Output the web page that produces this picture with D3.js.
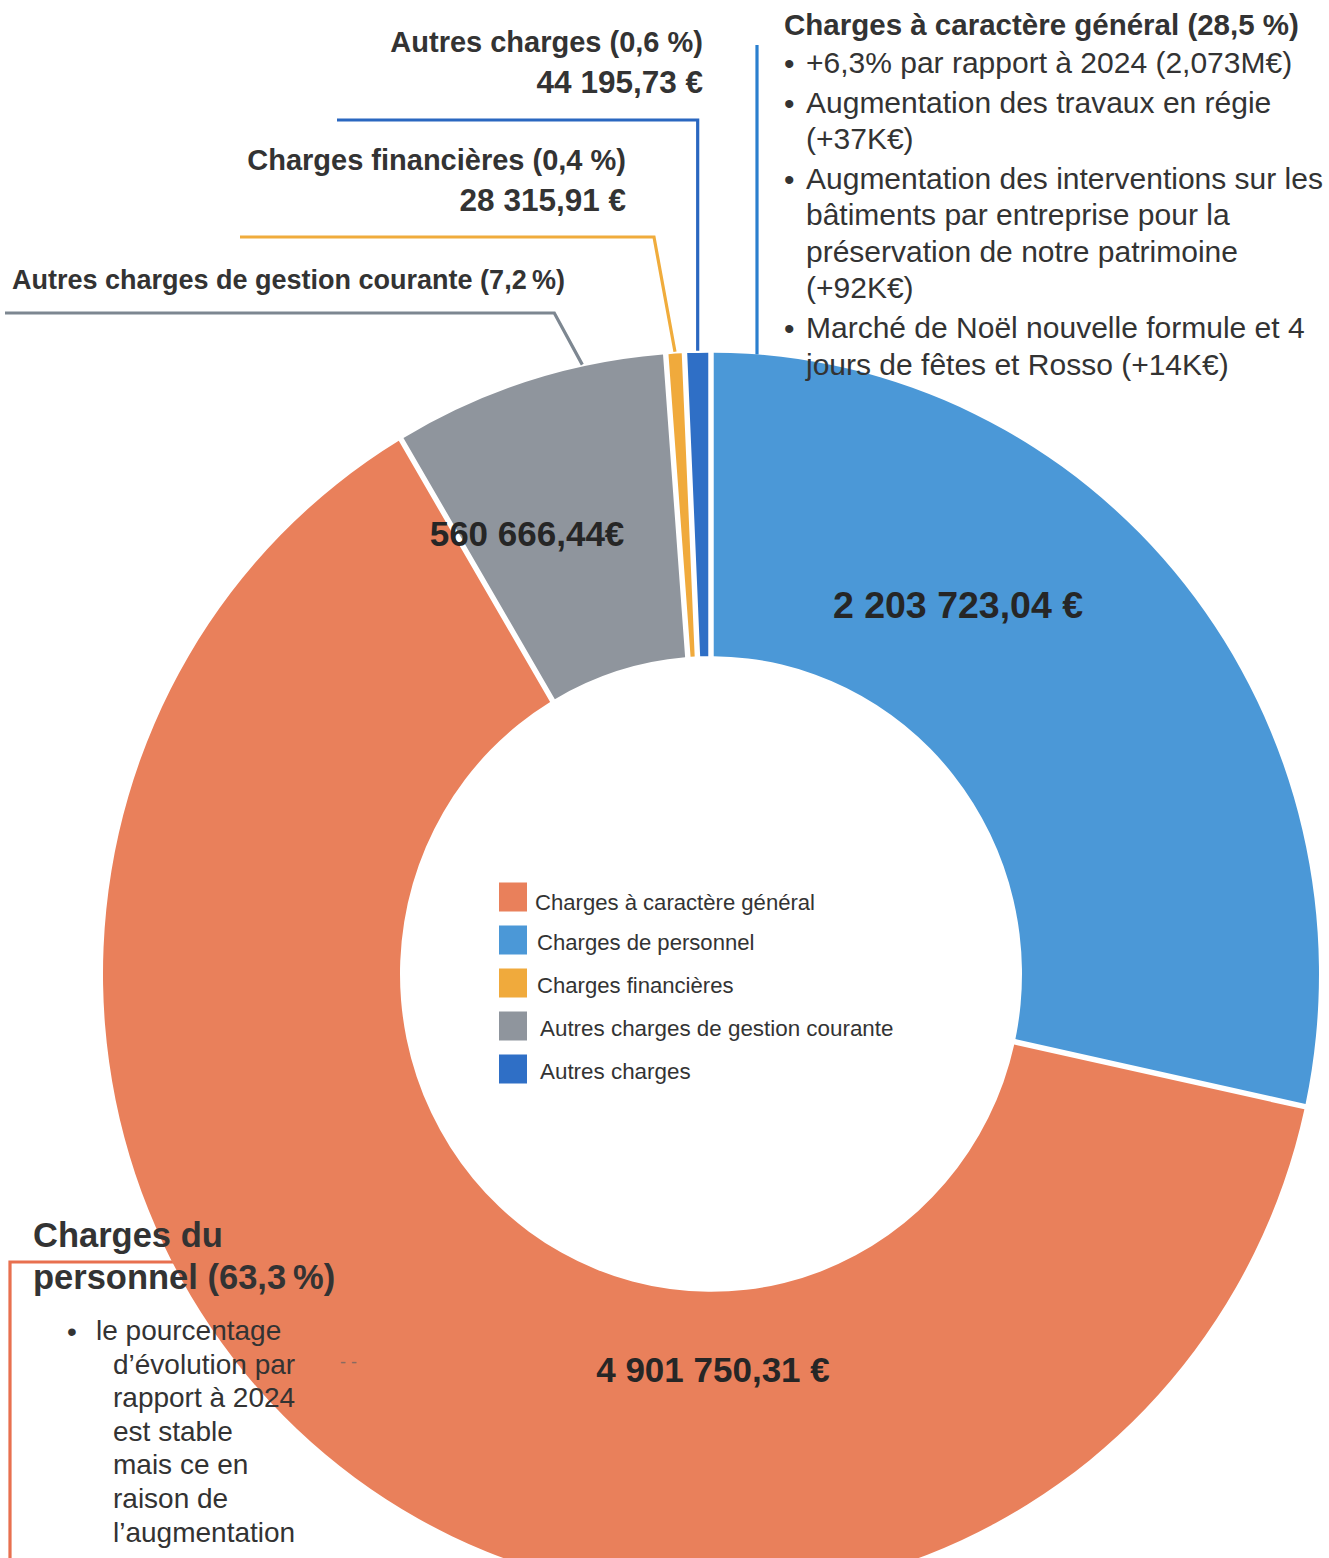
<!DOCTYPE html>
<html>
<head>
<meta charset="utf-8">
<script src="https://cdn.jsdelivr.net/npm/d3@7"></script>
<style>
  html, body { margin: 0; padding: 0; background: #fff; }
  #chart { width: 1329px; height: 1558px; }
  text { font-family: "Liberation Sans", Arial, sans-serif; }
</style>
</head>
<body>
<div id="chart"></div>
<script>
// slices, clockwise from 12 o'clock
const categories = ['Charges à caractère général', 'Charges du personnel', 'Autres charges de gestion courante', 'Charges financières', 'Autres charges']
const values = [2203723.04, 4901750.31, 560666.44, 28315.91, 44195.73]
const sliceColors = ['#4b98d7', '#e9805b', '#8f959d', '#f0aa3c', '#2f6fc6']
const leaderColors = ['#2a7fcf', '#e8704f', '#7d8791', '#f0ac3c', '#2a67c0']

// legend (as printed in the source)
const legendLabels = ['Charges à caractère général', 'Charges de personnel', 'Charges financières', 'Autres charges de gestion courante', 'Autres charges']
const legendColors = ['#e9805b', '#4b98d7', '#f0aa3c', '#8f959d', '#2f6fc6']

// notes
const notesGeneral = [
    {bullet: true, text: '+6,3% par rapport à 2024 (2,073M€)'},
    {bullet: true, text: 'Augmentation des travaux en régie'},
    {bullet: false, text: '(+37K€)'},
    {bullet: true, text: 'Augmentation des interventions sur les'},
    {bullet: false, text: 'bâtiments par entreprise pour la'},
    {bullet: false, text: 'préservation de notre patrimoine'},
    {bullet: false, text: '(+92K€)'},
    {bullet: true, text: 'Marché de Noël nouvelle formule et 4'},
    {bullet: false, text: 'jours de fêtes et Rosso (+14K€)'}
]
const notesPersonnel = ['le pourcentage', 'd’évolution par', 'rapport à 2024', 'est stable', 'mais ce en', 'raison de', 'l’augmentation']

const fr = d3.formatLocale({decimal: ',', thousands: '\u00a0', grouping: [3], currency: ['', ' €']})
const fmtMoney = fr.format(',.2f')
const fmtPct = fr.format('.1f')

class DonutChart {
    constructor(container) {
        this.svg = d3.select(container).append('svg')
            .attr('width', 1329)
            .attr('height', 1558)
        this.cx = 711
        this.cy = 974
        this.R = 608
        this.r0 = 311
        this.sy = 1.022   // the scan is slightly taller than wide
        this.total = d3.sum(values)
        this.pie = d3.pie().sort(null).value(d => d).padAngle(0.008)(values)
        this.arc = d3.arc().innerRadius(this.r0).outerRadius(this.R)
    }

    polar(angle, r) {
        return [this.cx + r * Math.sin(angle), this.cy - this.sy * r * Math.cos(angle)]
    }

    draw() {
        this.drawLeaders()
        this.drawSlices()
        this.drawLegend()
        this.drawLabels()
        this.drawNotes()
    }

    drawLeaders() {
        const g = this.svg.append('g')
            .attr('fill', 'none')
            .attr('stroke-width', 3.2)
        const at = (i, f) => this.pie[i].startAngle + f * (this.pie[i].endAngle - this.pie[i].startAngle)
        const line = d3.line()

        // autres charges
        const p4 = this.polar(at(4, 0.5), this.R + 2)
        g.append('path').attr('stroke', leaderColors[4])
            .attr('d', line([p4, [p4[0], 120], [337, 120]]))
        // charges financieres
        const p3 = this.polar(at(3, 0.5), this.R + 2)
        g.append('path').attr('stroke', leaderColors[3])
            .attr('d', line([p3, [p3[0] - 21, 237], [240, 237]]))
        // gestion courante
        const p2 = this.polar(at(2, 0.7), this.R + 2)
        g.append('path').attr('stroke', leaderColors[2])
            .attr('d', line([p2, [p2[0] - 28, 313], [5, 313]]))
        // caractere general
        const x0 = 757
        const y0 = this.cy - this.sy * Math.sqrt(this.R * this.R - (x0 - this.cx) ** 2)
        g.append('path').attr('stroke', leaderColors[0])
            .attr('d', line([[x0, y0], [x0, 45]]))
        // personnel
        g.append('path').attr('stroke', leaderColors[1])
            .attr('d', line([[10, 1560], [10, 1262], [220, 1262]]))
    }

    drawSlices() {
        this.svg.append('g')
            .attr('transform', `translate(${this.cx},${this.cy}) scale(1,${this.sy})`)
            .selectAll('path')
            .data(this.pie)
            .enter()
            .append('path')
            .attr('d', this.arc)
            .attr('fill', (d, i) => sliceColors[i])
    }

    drawLegend() {
        const y = d3.scalePoint().domain(legendLabels).range([897, 1069])
        const g = this.svg.append('g')
        const item = g.selectAll('g')
            .data(legendLabels)
            .enter()
            .append('g')
            .attr('transform', d => `translate(499, ${y(d)})`)
        item.append('rect')
            .attr('x', 0)
            .attr('y', -14.5)
            .attr('width', 28)
            .attr('height', 29)
            .attr('fill', (d, i) => legendColors[i])
        item.append('text')
            .text(d => d)
            .attr('x', (d, i) => 36 + (i > 2 ? 5 : i > 0 ? 2 : 0))
            .attr('y', (d, i) => i === 0 ? 13 : 10)
            .style('font-size', (d, i) => i > 2 ? '22.4px' : '22.1px')
            .style('fill', '#333')
    }

    drawLabels() {
        const lbl = this.svg.append('g')
            .style('font-weight', 'bold')
            .style('fill', '#262626')
            .style('font-size', '35px')
            .attr('text-anchor', 'middle')
        lbl.append('text').text(fmtMoney(values[0]) + ' €').attr('x', 958).attr('y', 618).style('font-size', '37.5px')
        lbl.append('text').text(fmtMoney(values[2]) + '€').attr('x', 527).attr('y', 546)
        lbl.append('text').text(fmtMoney(values[1]) + ' €').attr('x', 713).attr('y', 1382)
    }

    drawNotes() {
        const pct = (i) => fmtPct(values[i] / this.total * 100)
        const svg = this.svg
        const head = svg.append('g')
            .style('font-weight', 'bold')
            .style('fill', '#333')

        head.append('text').text(`${categories[4]} (${pct(4)} %)`)
            .attr('x', 703).attr('y', 52).attr('text-anchor', 'end').style('font-size', '29px')
        head.append('text').text(fmtMoney(values[4]) + ' €')
            .attr('x', 703).attr('y', 93).attr('text-anchor', 'end').style('font-size', '31.5px')
        head.append('text').text(`${categories[3]} (${pct(3)} %)`)
            .attr('x', 626).attr('y', 170).attr('text-anchor', 'end').style('font-size', '29px')
        head.append('text').text(fmtMoney(values[3]) + ' €')
            .attr('x', 626).attr('y', 211).attr('text-anchor', 'end').style('font-size', '31.5px')
        head.append('text').text(`${categories[2]} (${pct(2)}\u202f%)`)
            .attr('x', 12).attr('y', 289).style('font-size', '27px')
        head.append('text').text(`${categories[0]} (${pct(0)} %)`)
            .attr('x', 784).attr('y', 35).style('font-size', '29.5px')

        // bullets, general charges
        const body = svg.append('g').style('fill', '#333').style('font-size', '30px')
        let y = 73
        notesGeneral.forEach((n, i) => {
            if (i > 0) y += n.bullet ? 39.5 : 36.6
            if (n.bullet) body.append('text').text('•').attr('x', 784).attr('y', y + 1).style('font-size', '30px')
            body.append('text').text(n.text).attr('x', 806).attr('y', y)
        })

        // personnel block
        const pers = svg.append('g').style('fill', '#333')
        pers.append('text').text('Charges du')
            .attr('x', 33).attr('y', 1247).style('font-weight', 'bold').style('font-size', '34.5px')
        pers.append('text').text(`personnel (${pct(1)}\u202f%)`)
            .attr('x', 33).attr('y', 1289).style('font-weight', 'bold').style('font-size', '34.5px')
        pers.append('text').text('•').attr('x', 67).attr('y', 1341).style('font-size', '28px')
        notesPersonnel.forEach((t, i) => {
            pers.append('text').text(t)
                .attr('x', i === 0 ? 96 : 113)
                .attr('y', 1340 + i * 33.6)
                .style('font-size', '28px')
        })
        pers.append('text').text('-   -').attr('x', 340).attr('y', 1368)
            .style('font-size', '18px').style('fill', '#8a6a60')
    }
}

const chart = new DonutChart(document.getElementById('chart'))
chart.draw()
</script>
</body>
</html>
